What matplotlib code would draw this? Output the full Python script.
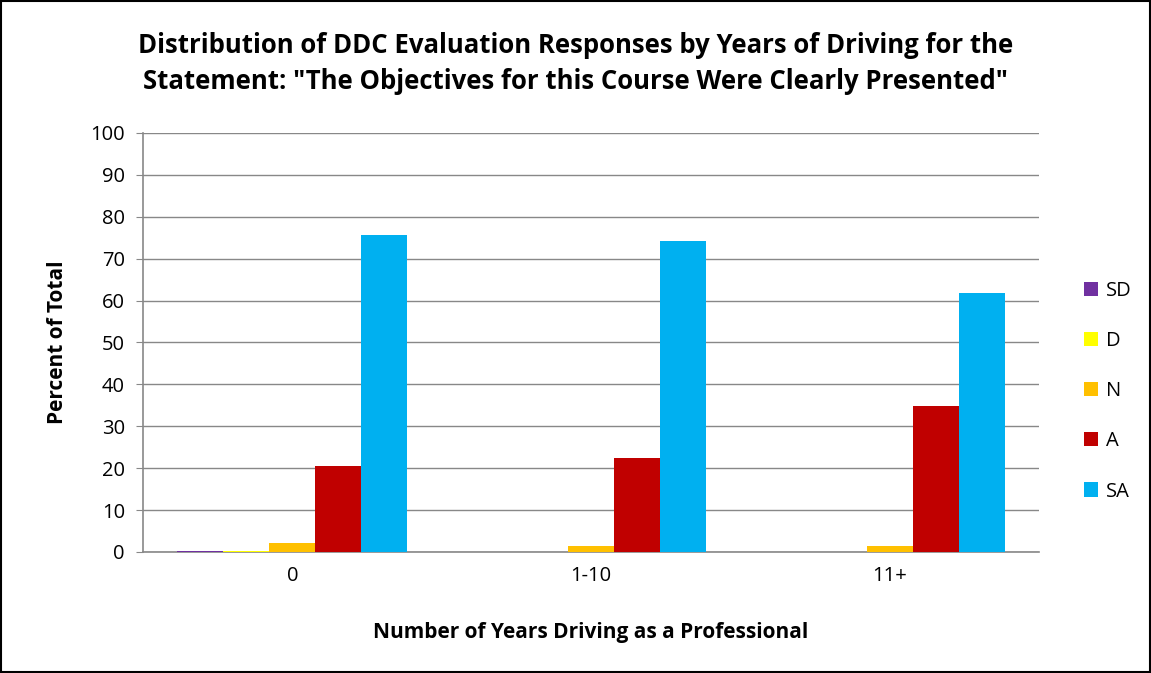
import numpy as np
import matplotlib.pyplot as plt
from matplotlib.patches import Rectangle

plt.rcParams['font.family'] = ['Open Sans', 'DejaVu Sans']

groups = ['0', '1-10', '11+']
series = ['SD', 'D', 'N', 'A', 'SA']
sd = [0.3, 0.0, 0.0]
d = [0.2, 0.0, 0.0]
n = [2.2, 1.5, 1.5]
a = [20.6, 22.5, 34.9]
sa = [75.7, 74.2, 61.9]
colors = ['#7030A0', '#FFFF00', '#FFC000', '#C00000', '#00B0F0']

fig = plt.figure(figsize=(11.51, 6.73), dpi=100)
ax = fig.add_axes([0.1242, 0.1798, 0.7785, 0.6226])

x = np.arange(len(groups))
w = 0.154
for i, (vals, lab) in enumerate(zip([sd, d, n, a, sa], series)):
    ax.bar(x + (i - 2) * w, vals, w, color=colors[i], label=lab, zorder=3)

ax.set_xlim(-0.5, 2.5)
ax.set_ylim(0, 100)
ax.set_yticks(range(0, 101, 10))
ax.set_xticks(x)
ax.set_xticklabels(groups)
ax.tick_params(axis='x', labelsize=14.5, length=0, pad=10)
ax.tick_params(axis='y', labelsize=14.5, length=5, color='#888888', direction='out', pad=8)
ax.grid(axis='y', color='#888888', linewidth=1, zorder=0)
for s in ['top', 'right']:
    ax.spines[s].set_visible(False)
for s in ['left', 'bottom']:
    ax.spines[s].set_color('#888888')
    ax.spines[s].set_linewidth(1.2)

ax.set_ylabel('Percent of Total', fontsize=15, fontweight='bold', labelpad=16)
ax.set_xlabel('Number of Years Driving as a Professional', fontsize=15,
              fontweight='bold', labelpad=26)
fig.suptitle('Distribution of DDC Evaluation Responses by Years of Driving for the\n'
             'Statement: "The Objectives for this Course Were Clearly Presented"',
             fontsize=18.5, fontweight='bold', y=0.952, linespacing=1.4)

ax.legend(loc='center left', bbox_to_anchor=(1.03, 0.384), frameon=False,
          fontsize=14.5, handlelength=0.7, handleheight=0.7, labelspacing=1.5,
          handletextpad=0.4)

fig.patches.append(Rectangle((0.001, 0.001), 0.998, 0.998, transform=fig.transFigure,
                             fill=False, edgecolor='black', linewidth=1.5))

fig.savefig('out.png', dpi=100)
